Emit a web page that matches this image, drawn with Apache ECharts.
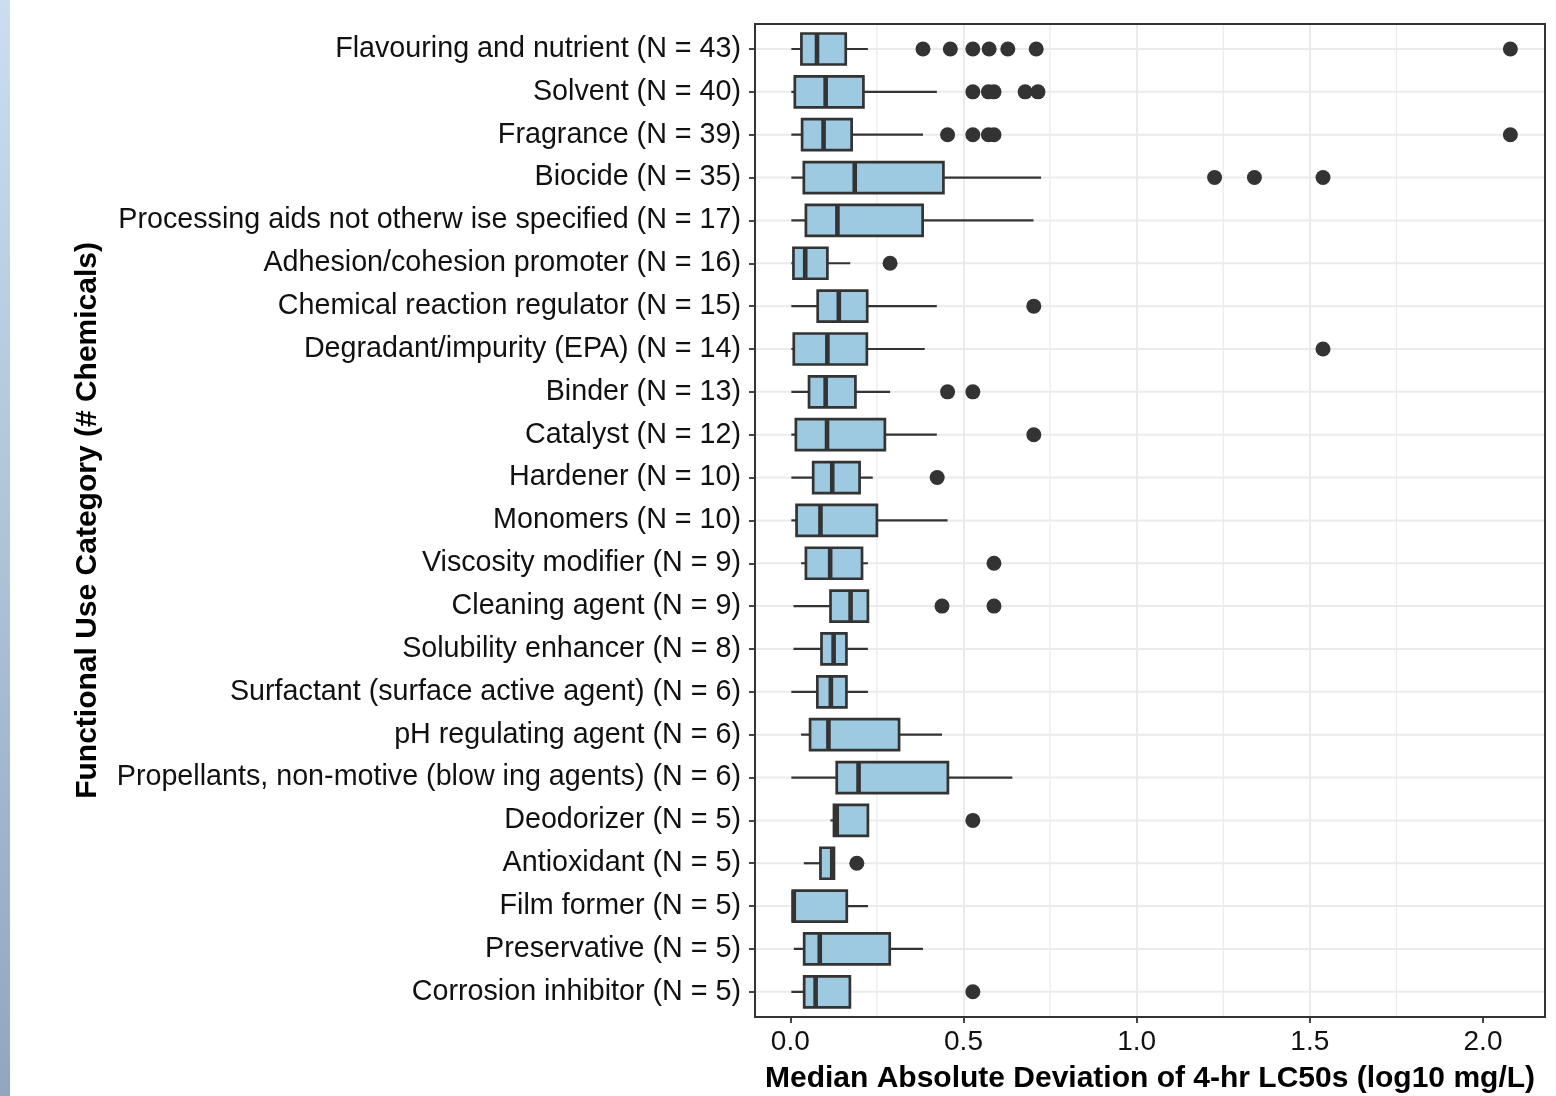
<!DOCTYPE html>
<html>
<head>
<meta charset="utf-8">
<script src="https://cdn.jsdelivr.net/npm/echarts@6/dist/echarts.min.js"></script>
<style>
html,body{margin:0;padding:0;background:#fff;}
#chart{width:1556px;height:1096px;}
</style>
</head>
<body>
<div id="chart"></div>
<script>
const categories = [
  'Flavouring and nutrient (N = 43)',
  'Solvent (N = 40)',
  'Fragrance (N = 39)',
  'Biocide (N = 35)',
  'Processing aids not otherw ise specified (N = 17)',
  'Adhesion/cohesion promoter (N = 16)',
  'Chemical reaction regulator (N = 15)',
  'Degradant/impurity (EPA) (N = 14)',
  'Binder (N = 13)',
  'Catalyst (N = 12)',
  'Hardener (N = 10)',
  'Monomers (N = 10)',
  'Viscosity modifier (N = 9)',
  'Cleaning agent (N = 9)',
  'Solubility enhancer (N = 8)',
  'Surfactant (surface active agent) (N = 6)',
  'pH regulating agent (N = 6)',
  'Propellants, non-motive (blow ing agents) (N = 6)',
  'Deodorizer (N = 5)',
  'Antioxidant (N = 5)',
  'Film former (N = 5)',
  'Preservative (N = 5)',
  'Corrosion inhibitor (N = 5)'
];
const whiskerLow  = [0.003,0.003,0.003,0.003,0.003,0.003,0.003,0.003,0.003,0.003,0.003,0.003,0.031,0.009,0.009,0.003,0.031,0.003,0.116,0.039,0.007,0.010,0.003];
const q1          = [0.032,0.013,0.034,0.039,0.045,0.009,0.079,0.010,0.054,0.016,0.066,0.018,0.045,0.116,0.090,0.078,0.057,0.134,0.126,0.087,0.007,0.040,0.040];
const median      = [0.077,0.102,0.096,0.186,0.136,0.043,0.140,0.107,0.102,0.106,0.121,0.087,0.115,0.174,0.125,0.117,0.110,0.197,0.134,0.121,0.010,0.085,0.073];
const q3          = [0.160,0.211,0.177,0.442,0.382,0.107,0.222,0.221,0.188,0.273,0.200,0.250,0.207,0.224,0.162,0.162,0.314,0.455,0.224,0.126,0.163,0.287,0.172];
const whiskerHigh = [0.224,0.423,0.383,0.724,0.702,0.173,0.423,0.388,0.288,0.423,0.238,0.454,0.224,0.224,0.224,0.224,0.438,0.641,0.224,0.126,0.224,0.383,0.172];
const outliers = [
  [0.383,0.462,0.527,0.574,0.628,0.710,2.079],
  [0.527,0.572,0.588,0.678,0.715],
  [0.454,0.527,0.572,0.588,2.079],
  [1.225,1.340,1.538],
  [],
  [0.288],
  [0.703],
  [1.538],
  [0.454,0.527],
  [0.703],
  [0.424],
  [],
  [0.588],
  [0.438,0.588],
  [],
  [],
  [],
  [],
  [0.527],
  [0.192],
  [],
  [],
  [0.527]
];
const xTickValues = [0, 0.5, 1.0, 1.5, 2.0];
const xMinorGrid = [0.25, 0.75, 1.25, 1.75];
const xTitle = 'Median Absolute Deviation of 4-hr LC50s (log10 mg/L)';
const yTitle = 'Functional Use Category (# Chemicals)';

const X_MIN = -0.102, X_MAX = 2.179;
const FONT = '"Liberation Sans", Arial, Helvetica, sans-serif';
const DARK = '#333333';
const GRIDC = '#EBEBEB';

const boxData = categories.map((c, i) => [i, whiskerLow[i], q1[i], median[i], q3[i], whiskerHigh[i]]);
const outlierData = [];
outliers.forEach((arr, i) => arr.forEach(v => outlierData.push([v, i])));

const chart = echarts.init(document.getElementById('chart'), null, {renderer: 'canvas'});

const HALF_H = 15.5;

const option = {
  animation: false,
  backgroundColor: '#ffffff',
  textStyle: {fontFamily: FONT},
  graphic: [
    {
      type: 'rect', z: 0, silent: true,
      shape: {x: 0, y: 0, width: 10, height: 1096},
      style: {fill: new echarts.graphic.LinearGradient(0, 0, 0, 1, [
        {offset: 0, color: '#cadef0'},
        {offset: 1, color: '#92a6c1'}
      ])}
    },
    {
      type: 'rect', z: 100, silent: true,
      shape: {x: 755, y: 24, width: 790, height: 993},
      style: {fill: 'none', stroke: DARK, lineWidth: 2}
    }
  ],
  grid: [
    {left: 755, top: 24, width: 790, height: 993, show: false, containLabel: false, outerBoundsMode: 'none'},
    {left: 755, top: 27.57, width: 790, height: 985.67, show: false, containLabel: false, outerBoundsMode: 'none'}
  ],
  xAxis: [
    {
      gridIndex: 0, type: 'value', min: X_MIN, max: X_MAX, splitNumber: 5,
      axisLine: {show: false, onZero: false},
      axisTick: {show: true, length: 6, customValues: xTickValues, lineStyle: {color: DARK, width: 1.8}},
      axisLabel: {
        show: true, showMinLabel: false, showMaxLabel: false, margin: 11, fontSize: 28, color: '#111111', fontFamily: FONT,
        formatter: v => Number(v).toFixed(1)
      },
      splitLine: {show: true, showMinLine: false, showMaxLine: false, lineStyle: {color: GRIDC, width: 2}},
      name: xTitle, nameLocation: 'middle', nameGap: 49, nameMoveOverlap: false,
      nameTextStyle: {fontSize: 30, lineHeight: 26, fontWeight: 'bold', color: '#000000', fontFamily: FONT}
    },
    {
      gridIndex: 1, type: 'value', min: X_MIN, max: X_MAX,
      show: false, axisLine: {onZero: false}, splitLine: {show: false}
    }
  ],
  yAxis: [
    {gridIndex: 0, type: 'value', min: 0, max: 1, show: false, axisLine: {onZero: false}, splitLine: {show: false}},
    {
      gridIndex: 1, type: 'category', data: categories, inverse: true, boundaryGap: true,
      position: 'left',
      axisLine: {show: false, onZero: false},
      axisTick: {show: true, alignWithLabel: true, length: 6, lineStyle: {color: DARK, width: 1.8}},
      axisLabel: {show: true, interval: 0, margin: 14, fontSize: 28.7, color: '#111111', fontFamily: FONT,
        lineHeight: 30, padding: [6, 0, 0, 0]},
      splitLine: {show: false},
      name: yTitle, nameLocation: 'middle', nameGap: 652, nameRotate: 90, nameMoveOverlap: false,
      nameTextStyle: {fontSize: 30, fontWeight: 'bold', color: '#000000', fontFamily: FONT}
    }
  ],
  series: [
    {
      type: 'custom', name: 'minorGrid', xAxisIndex: 0, yAxisIndex: 0, z: 1, silent: true,
      data: xMinorGrid.map(v => [v]),
      encode: {x: 0},
      renderItem: function (params, api) {
        const cs = params.coordSys;
        const x = api.coord([api.value(0), 0])[0];
        return {type: 'line', shape: {x1: x, y1: cs.y + 1, x2: x, y2: cs.y + cs.height - 1},
          style: {stroke: GRIDC, lineWidth: 1.3}};
      }
    },
    {
      type: 'custom', name: 'rowGrid', xAxisIndex: 1, yAxisIndex: 1, z: 1, silent: true,
      data: categories.map((c, i) => [0, i]),
      encode: {x: 0, y: 1},
      renderItem: function (params, api) {
        const cs = params.coordSys;
        const y = api.coord([0, api.value(1)])[1];
        return {type: 'line', shape: {x1: cs.x + 1, y1: y, x2: cs.x + cs.width - 1, y2: y},
          style: {stroke: GRIDC, lineWidth: 2}};
      }
    },
    {
      type: 'custom', name: 'boxes', xAxisIndex: 1, yAxisIndex: 1, z: 2, silent: true,
      data: boxData,
      encode: {y: 0, x: [1, 2, 3, 4, 5]},
      renderItem: function (params, api) {
        const ci = api.value(0);
        const pLo = api.coord([api.value(1), ci]);
        const pQ1 = api.coord([api.value(2), ci]);
        const pMd = api.coord([api.value(3), ci]);
        const pQ3 = api.coord([api.value(4), ci]);
        const pHi = api.coord([api.value(5), ci]);
        const y = pLo[1];
        return {
          type: 'group',
          children: [
            {type: 'line', shape: {x1: pLo[0], y1: y, x2: pHi[0], y2: y}, style: {stroke: DARK, lineWidth: 2.2}},
            {type: 'rect', shape: {x: pQ1[0], y: y - HALF_H, width: pQ3[0] - pQ1[0], height: 2 * HALF_H},
              style: {fill: '#9ECAE1', stroke: DARK, lineWidth: 2.7}},
            {type: 'line', shape: {x1: pMd[0], y1: y - HALF_H, x2: pMd[0], y2: y + HALF_H},
              style: {stroke: DARK, lineWidth: 4.6}}
          ]
        };
      }
    },
    {
      type: 'scatter', name: 'outliers', xAxisIndex: 1, yAxisIndex: 1, z: 3, silent: true,
      symbol: 'circle', symbolSize: 15,
      itemStyle: {color: DARK, opacity: 1},
      data: outlierData
    }
  ]
};
chart.setOption(option);
</script>
</body>
</html>
